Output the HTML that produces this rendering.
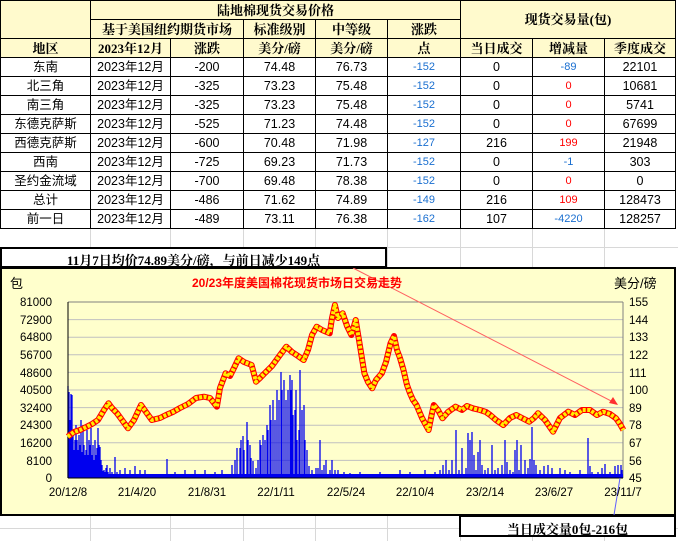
<!DOCTYPE html>
<html><head><meta charset="utf-8">
<style>
*{margin:0;padding:0;box-sizing:border-box}
body{width:678px;height:541px;background:#fff;position:relative;overflow:hidden;font-family:"Liberation Sans","Noto Sans CJK SC",sans-serif}
table{position:absolute;left:0;top:0;border-collapse:collapse;table-layout:fixed}
td{border:1px solid #000;height:19px;font-size:12.5px;text-align:center;padding:0;line-height:17px;white-space:nowrap;overflow:hidden}
.h td{background:#FFFACD;font-weight:bold;font-size:13px;font-family:"Liberation Serif","Noto Serif CJK SC",serif}
.b{color:#1a6fd0;font-size:11px}
.r{color:#f00;font-size:11px}
.grid{position:absolute;left:0;top:228px;width:678px;height:313px}
.box{position:absolute;border:2px solid #000;background:#fff;font-weight:bold;font-family:"Liberation Serif","Noto Serif CJK SC",serif;font-size:13px;text-align:center}
</style></head><body>
<svg class="grid" width="678" height="313">
<g stroke="#d8d8d8" stroke-width="1">
<line x1="90.5" y1="0" x2="90.5" y2="313"/><line x1="170.5" y1="0" x2="170.5" y2="313"/><line x1="243.5" y1="0" x2="243.5" y2="313"/><line x1="315.5" y1="0" x2="315.5" y2="313"/><line x1="387.5" y1="0" x2="387.5" y2="313"/><line x1="460.5" y1="0" x2="460.5" y2="313"/><line x1="532.5" y1="0" x2="532.5" y2="313"/><line x1="604.5" y1="0" x2="604.5" y2="313"/>
<line x1="0" y1="19.5" x2="678" y2="19.5"/><line x1="0" y1="300.5" x2="678" y2="300.5"/>
</g></svg>
<table>
<colgroup><col style="width:90px"><col style="width:80px"><col style="width:73px"><col style="width:72px"><col style="width:72px"><col style="width:73px"><col style="width:72px"><col style="width:72px"><col style="width:71px"></colgroup>
<tr class="h"><td rowspan="2"></td><td colspan="5">陆地棉现货交易价格</td><td colspan="3" rowspan="2">现货交易量(包)</td></tr>
<tr class="h"><td colspan="2">基于美国纽约期货市场</td><td>标准级别</td><td>中等级</td><td>涨跌</td></tr>
<tr class="h"><td>地区</td><td>2023年12月</td><td>涨跌</td><td>美分/磅</td><td>美分/磅</td><td>点</td><td>当日成交</td><td>增减量</td><td>季度成交</td></tr>
<tr><td>东南</td><td>2023年12月</td><td>-200</td><td>74.48</td><td>76.73</td><td class="b">-152</td><td>0</td><td class="b">-89</td><td>22101</td></tr>
<tr><td>北三角</td><td>2023年12月</td><td>-325</td><td>73.23</td><td>75.48</td><td class="b">-152</td><td>0</td><td class="r">0</td><td>10681</td></tr>
<tr><td>南三角</td><td>2023年12月</td><td>-325</td><td>73.23</td><td>75.48</td><td class="b">-152</td><td>0</td><td class="r">0</td><td>5741</td></tr>
<tr><td>东德克萨斯</td><td>2023年12月</td><td>-525</td><td>71.23</td><td>74.48</td><td class="b">-152</td><td>0</td><td class="r">0</td><td>67699</td></tr>
<tr><td>西德克萨斯</td><td>2023年12月</td><td>-600</td><td>70.48</td><td>71.98</td><td class="b">-127</td><td>216</td><td class="r">199</td><td>21948</td></tr>
<tr><td>西南</td><td>2023年12月</td><td>-725</td><td>69.23</td><td>71.73</td><td class="b">-152</td><td>0</td><td class="b">-1</td><td>303</td></tr>
<tr><td>圣约金流域</td><td>2023年12月</td><td>-700</td><td>69.48</td><td>78.38</td><td class="b">-152</td><td>0</td><td class="r">0</td><td>0</td></tr>
<tr><td>总计</td><td>2023年12月</td><td>-486</td><td>71.62</td><td>74.89</td><td class="b">-149</td><td>216</td><td class="r">109</td><td>128473</td></tr>
<tr><td>前一日</td><td>2023年12月</td><td>-489</td><td>73.11</td><td>76.38</td><td class="b">-162</td><td>107</td><td class="b">-4220</td><td>128257</td></tr>
</table>

<svg style="position:absolute;left:0;top:0" width="678" height="541">
<rect x="1" y="268" width="674" height="247" fill="#FFFFCC" stroke="#000" stroke-width="2"/>
<g stroke="#c0c0c0" stroke-width="1">
<line x1="68" x2="623" y1="319.6" y2="319.6"/><line x1="68" x2="623" y1="337.2" y2="337.2"/><line x1="68" x2="623" y1="354.8" y2="354.8"/><line x1="68" x2="623" y1="372.4" y2="372.4"/><line x1="68" x2="623" y1="390" y2="390"/><line x1="68" x2="623" y1="407.6" y2="407.6"/><line x1="68" x2="623" y1="425.2" y2="425.2"/><line x1="68" x2="623" y1="442.8" y2="442.8"/><line x1="68" x2="623" y1="460.4" y2="460.4"/>
</g>
<line x1="68" x2="623" y1="302" y2="302" stroke="#808080"/>
<line x1="623" x2="623" y1="302" y2="478" stroke="#808080"/>
<rect x="68" y="474" width="555" height="4" fill="#0000ee"/>
<path stroke="#0000ee" stroke-width="1.3" fill="none" d="M68 478V386M69 478V392M70 478V420M71 478V394M72 478V395M73 478V430M74 478V450M75 478V440M76 478V425M77 478V440M78 478V450M79 478V435M80 478V445M81 478V420M82 478V452M83 478V425M84 478V445M85 478V455M86 478V450M87 478V430M88 478V455M89 478V440M90 478V445M91 478V428M92 478V455M93 478V445M94 478V460M95 478V440M96 478V455M97 478V448M98 478V428M99 478V445M100 478V447M101 478V460M102 478V465M103 478V471M104 478V470M105 478V472M106 478V468M107 478V465M108 478V472M110 478V468M112 478V472M115 478V457M117 478V472M120 478V470M125 478V468M130 478V470M135 478V466M140 478V470M145 478V470M167 478V459M175 478V472M185 478V470M195 478V470M205 478V470M215 478V472M222 478V470M232 478V465M235 478V460M237 478V448M240 478V448M241 478V440M243 478V436M244 478V450M247 478V422M248 478V440M250 478V445M251 478V458M253 478V461M256 478V468M258 478V460M260 478V440M261 478V445M263 478V435M265 478V440M267 478V425M268 478V430M270 478V405M271 478V420M273 478V400M275 478V420M277 478V390M279 478V400M281 478V372M282 478V390M284 478V380M286 478V400M288 478V390M290 478V375M291 478V390M292 478V380M293 478V415M295 478V410M296 478V390M297 478V440M299 478V430M300 478V370M302 478V410M304 478V405M305 478V440M307 478V450M309 478V466M312 478V470M316 478V468M318 478V468M320 478V440M322 478V470M324 478V465M326 478V460M330 478V470M332 478V460M335 478V470M338 478V470M344 478V472M350 478V473M360 478V472M380 478V472M400 478V470M410 478V472M425 478V470M435 478V472M440 478V470M443 478V465M446 478V460M449 478V470M452 478V460M455 478V475M456 478V430M459 478V470M462 478V448M466 478V468M468 478V433M470 478V440M472 478V432M474 478V455M476 478V470M478 478V452M480 478V440M482 478V465M485 478V470M488 478V468M492 478V445M495 478V470M498 478V468M502 478V465M505 478V440M507 478V462M510 478V470M513 478V472M515 478V450M517 478V440M519 478V470M521 478V445M525 478V460M528 478V468M530 478V459M532 478V427M534 478V460M536 478V465M540 478V470M544 478V466M548 478V465M552 478V468M560 478V468M565 478V470M570 478V472M580 478V470M586 478V474M588 478V438M590 478V466M592 478V472M598 478V472M602 478V468M605 478V464M610 478V472M615 478V466M618 478V465M621 478V465M622 478V470"/>
<line x1="68" x2="68" y1="302" y2="478" stroke="#000"/>
<line x1="68" x2="623" y1="478" y2="478" stroke="#000"/>
<g fill="none" stroke-linejoin="round">
<polyline stroke="#ff0000" stroke-width="6" points="67.7,436.7 74,432 80,430 86.8,426.7 92,424 98,420 104,410 108.5,403.3 112,408 117.1,413.3 122,420 128,428.3 134,420 141,405 146,412 151.8,420 160,418 166,415 173.5,411.7 180,408 188,404 196,398 203.9,396.7 210,398 216.9,406.7 220,388 225.6,373.3 230,376 234,368 238.6,358.3 244,362 251.6,365 256,381.7 260,378 264.6,373.3 272,366 280,355 286.3,346.7 292,352 298,356 303.7,360 308,350 312,335 316.7,326.7 322,330 329.7,333.3 332,318 334.9,305 338,318 342.7,313.3 347,326 351.4,335 355.7,320 360.1,346.7 364.4,373.3 368,382 372.2,388.3 376,380 381.8,373.3 386,362 390.5,343.3 394,336 397,350 400,358 403.5,370 407,385 410,393.3 413,400 416.5,405 422,418 428.6,430 431,418 433.8,405 438,410 442.5,418.3 448,412 455.5,406.7 462,410 467,406 472.9,408.3 480,410 486,412 490.2,415 496,420 503.3,425 510,418 516.3,415 522,418 529.3,421.7 534,418 538,413.3 545,420 553.1,431.7 560,418 568.3,411.7 575,415 582,410 590,410 597,415 603,411.7 610,414 616,418.3 620,424 623.4,430"/>
<polyline stroke="#ffee00" stroke-width="4" stroke-dasharray="3 1.5" points="67.7,436.7 74,432 80,430 86.8,426.7 92,424 98,420 104,410 108.5,403.3 112,408 117.1,413.3 122,420 128,428.3 134,420 141,405 146,412 151.8,420 160,418 166,415 173.5,411.7 180,408 188,404 196,398 203.9,396.7 210,398 216.9,406.7 220,388 225.6,373.3 230,376 234,368 238.6,358.3 244,362 251.6,365 256,381.7 260,378 264.6,373.3 272,366 280,355 286.3,346.7 292,352 298,356 303.7,360 308,350 312,335 316.7,326.7 322,330 329.7,333.3 332,318 334.9,305 338,318 342.7,313.3 347,326 351.4,335 355.7,320 360.1,346.7 364.4,373.3 368,382 372.2,388.3 376,380 381.8,373.3 386,362 390.5,343.3 394,336 397,350 400,358 403.5,370 407,385 410,393.3 413,400 416.5,405 422,418 428.6,430 431,418 433.8,405 438,410 442.5,418.3 448,412 455.5,406.7 462,410 467,406 472.9,408.3 480,410 486,412 490.2,415 496,420 503.3,425 510,418 516.3,415 522,418 529.3,421.7 534,418 538,413.3 545,420 553.1,431.7 560,418 568.3,411.7 575,415 582,410 590,410 597,415 603,411.7 610,414 616,418.3 620,424 623.4,430"/>
</g>
<line x1="353" y1="268" x2="617" y2="404" stroke="#ff6060" stroke-width="1"/>
<polygon points="618,405 609,403 613,397" fill="#ff3030"/>
<line x1="620" y1="478" x2="614" y2="515" stroke="#6060ff" stroke-width="1"/>
<g font-family="Liberation Sans,Noto Sans CJK SC,sans-serif" font-size="11.5" fill="#000">
<text x="52" y="306" text-anchor="end">81000</text><text x="52" y="324" text-anchor="end">72900</text><text x="52" y="341" text-anchor="end">64800</text><text x="52" y="359" text-anchor="end">56700</text><text x="52" y="377" text-anchor="end">48600</text><text x="52" y="394" text-anchor="end">40500</text><text x="52" y="412" text-anchor="end">32400</text><text x="52" y="429" text-anchor="end">24300</text><text x="52" y="447" text-anchor="end">16200</text><text x="52" y="465" text-anchor="end">8100</text><text x="52" y="482" text-anchor="end">0</text>
<text x="629" y="306">155</text><text x="629" y="324">144</text><text x="629" y="341">133</text><text x="629" y="359">122</text><text x="629" y="377">111</text><text x="629" y="394">100</text><text x="629" y="412">89</text><text x="629" y="429">78</text><text x="629" y="447">67</text><text x="629" y="465">56</text><text x="629" y="482">45</text>
<g text-anchor="middle"><text x="68" y="496">20/12/8</text><text x="137" y="496">21/4/20</text><text x="207" y="496">21/8/31</text><text x="276" y="496">22/1/11</text><text x="346" y="496">22/5/24</text><text x="415" y="496">22/10/4</text><text x="485" y="496">23/2/14</text><text x="554" y="496">23/6/27</text><text x="623" y="496">23/11/7</text></g>
<text x="10" y="288" font-size="13">包</text>
<text x="614" y="288" font-size="13">美分/磅</text>
<text x="297" y="287" text-anchor="middle" fill="#ff0000" font-weight="bold" font-size="12">20/23年度美国棉花现货市场日交易走势</text>
</g>
</svg>
<div class="box" style="left:0;top:247px;width:387px;height:21px;line-height:24px">11月7日均价74.89美分/磅，与前日减少149点</div>
<div class="box" style="left:459px;top:515px;width:217px;height:22px;line-height:26px">当日成交量0包-216包</div>
</body></html>
